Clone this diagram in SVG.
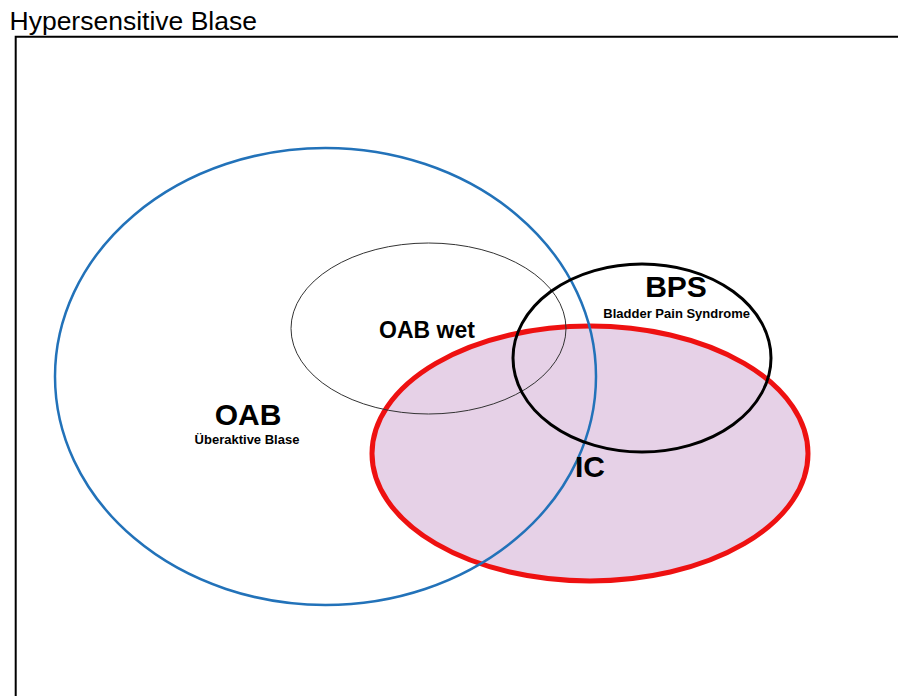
<svg xmlns="http://www.w3.org/2000/svg" width="898" height="696" viewBox="0 0 898 696">
<style>
text{font-family:"Liberation Sans",Arial,sans-serif;fill:#000}
.big{font-size:30px}
.b{font-weight:bold}
.sub{font-size:13px;font-weight:bold}
</style>
<rect width="898" height="696" fill="#fff"/>
<g id="title"><text x="9.5" y="30" font-size="26.5">Hypersensitive Blase</text></g>
<g id="frame"><path d="M15.7 696V36.7H898" fill="none" stroke="#000" stroke-width="2"/></g>
<g id="connectors"></g>
<g id="ic">
<ellipse cx="590" cy="453.5" rx="218" ry="127.5" fill="#e6d1e7" stroke="#ee1111" stroke-width="5"/>
</g>
<g id="oab">
<ellipse cx="325.5" cy="376.5" rx="270.5" ry="228.5" fill="none" stroke="#2272b9" stroke-width="2.5"/>
<text class="big b" x="248" y="425" text-anchor="middle">OAB</text>
<text class="sub" x="247" y="443.5" text-anchor="middle">Überaktive Blase</text>
</g>
<g id="oab-wet">
<ellipse cx="428.5" cy="328.5" rx="137.5" ry="85.5" fill="none" stroke="#333" stroke-width="1"/>
<text class="b" x="427" y="338.3" font-size="23" text-anchor="middle">OAB wet</text>
</g>
<g id="bps">
<ellipse cx="642" cy="358" rx="129" ry="94" fill="none" stroke="#000" stroke-width="3"/>
<text class="big" x="676" y="297" font-weight="600" text-anchor="middle">BPS</text>
<text class="sub" x="676.7" y="318" font-size="13.5" text-anchor="middle">Bladder Pain Syndrome</text>
</g>
<g id="ic-label"><text class="big" x="590" y="476.7" font-weight="600" text-anchor="middle">IC</text></g>
</svg>
